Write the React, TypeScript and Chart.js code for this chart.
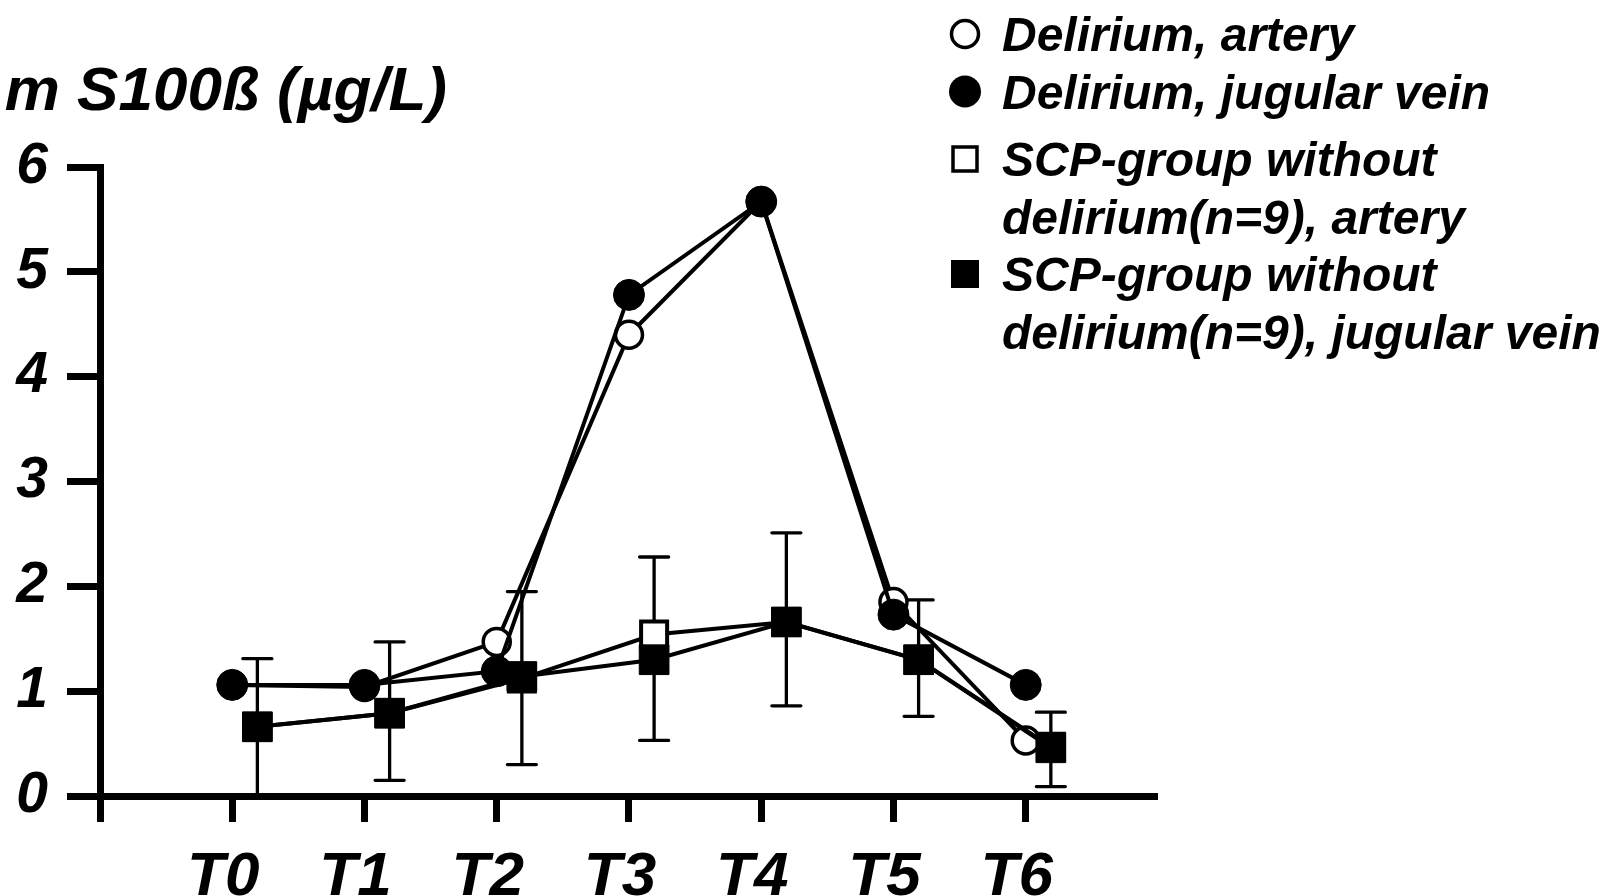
import React, { useEffect, useRef } from 'react';
import { Chart, registerables } from 'chart.js';

Chart.register(...registerables);

// ---------- data ----------
const CATEGORIES = ['T0', 'T1', 'T2', 'T3', 'T4', 'T5', 'T6'];
const X_TICK_VALUES = [-1, 0, 1, 2, 3, 4, 5, 6];
const X_MIN = -1;
const X_MAX = 6.97;
const Y_MIN = 0;
const Y_MAX = 6;

const DELIRIUM_ARTERY = [1.06, 1.04, 1.47, 4.4, 5.67, 1.85, 0.53];
const DELIRIUM_JUGULAR = [1.06, 1.06, 1.19, 4.78, 5.67, 1.73, 1.06];
const SCP_ARTERY = [0.66, 0.79, 1.12, 1.54, 1.66, 1.3, 0.47];
const SCP_JUGULAR = [0.66, 0.79, 1.14, 1.3, 1.66, 1.3, 0.46];
const SCP_ERR_UPPER = [1.31, 1.47, 1.95, 2.28, 2.51, 1.87, 0.8];
const SCP_ERR_LOWER = [0.0, 0.15, 0.3, 0.53, 0.86, 0.76, 0.09];

const LEGEND_LINES = [
  ['Delirium, artery'],
  ['Delirium, jugular vein'],
  ['SCP-group without', 'delirium(n=9), artery'],
  ['SCP-group without', 'delirium(n=9), jugular vein'],
];
const TITLE_TEXT = 'm S100ß (µg/L)';

// ---------- style ----------
const FONT_FAMILY = '"Liberation Sans", Arial, Helvetica, sans-serif';
const CIRCLE_DODGE = 0;
const SQUARE_DODGE = 0.19;
const CAP_HALF = 14.5;
const LEGEND_EXTRA_GAP = [0, 0, 10, 0];

const toPoints = (vals: number[], dodge: number) =>
  vals.map((v, i) => ({ x: i + dodge, y: v }));

const overlayPlugin = {
  id: 'overlay',
  beforeDatasetsDraw(chart: any) {
    const { ctx } = chart;
    const xs = chart.scales.x;
    const ys = chart.scales.y;
    ctx.save();
    ctx.strokeStyle = '#000';
    ctx.lineWidth = 3.3;
    ctx.lineCap = 'round';
    CATEGORIES.forEach((_, i) => {
      const px = xs.getPixelForValue(i + SQUARE_DODGE);
      const top = ys.getPixelForValue(SCP_ERR_UPPER[i]);
      const bot = ys.getPixelForValue(SCP_ERR_LOWER[i]);
      ctx.beginPath();
      ctx.moveTo(px, top);
      ctx.lineTo(px, bot);
      ctx.moveTo(px - CAP_HALF, top);
      ctx.lineTo(px + CAP_HALF, top);
      if (SCP_ERR_LOWER[i] > 0) {
        ctx.moveTo(px - CAP_HALF, bot);
        ctx.lineTo(px + CAP_HALF, bot);
      }
      ctx.stroke();
    });
    ctx.restore();
  },
  afterDraw(chart: any) {
    const { ctx } = chart;
    ctx.save();
    // title (cropped y-axis title)
    ctx.fillStyle = '#000';
    ctx.font = `italic bold 62px ${FONT_FAMILY}`;
    ctx.textAlign = 'right';
    ctx.textBaseline = 'alphabetic';
    ctx.fillText(TITLE_TEXT, 447, 110);

    // legend
    ctx.font = `italic bold 48px ${FONT_FAMILY}`;
    ctx.textAlign = 'left';
    const markerX = 965;
    const textX = 1002;
    let baseline = 51;
    const lineH = 57.5;
    chart.data.datasets.forEach((ds: any, i: number) => {
      baseline += LEGEND_EXTRA_GAP[i];
      const cy = baseline - 17;
      const filled = ds.backgroundColor !== '#ffffff';
      ctx.lineWidth = 3.5;
      ctx.strokeStyle = '#000';
      ctx.fillStyle = filled ? '#000' : '#fff';
      ctx.beginPath();
      if (ds.pointStyle === 'circle') {
        ctx.arc(markerX, cy, filled ? 16 : 13.5, 0, Math.PI * 2);
      } else {
        const h = filled ? 14 : 12;
        ctx.rect(markerX - h, cy - h, 2 * h, 2 * h);
      }
      ctx.fill();
      if (!filled) ctx.stroke();
      ctx.fillStyle = '#000';
      LEGEND_LINES[i].forEach((line, j) => {
        ctx.fillText(line, textX, baseline + j * lineH);
      });
      baseline += LEGEND_LINES[i].length * lineH;
    });
    ctx.restore();
  },
};

export default function App() {
  const canvasRef = useRef<HTMLCanvasElement | null>(null);

  useEffect(() => {
    if (!canvasRef.current) return;
    const lineCommon = {
      borderColor: '#000',
      borderWidth: 4,
      pointBorderColor: '#000',
      tension: 0,
      fill: false,
    };
    const chart = new Chart(canvasRef.current, {
      type: 'line',
      data: {
        datasets: [
          {
            ...lineCommon,
            label: LEGEND_LINES[0].join(' '),
            data: toPoints(DELIRIUM_ARTERY, CIRCLE_DODGE),
            pointStyle: 'circle',
            pointRadius: 13.5,
            pointBorderWidth: 3.5,
            backgroundColor: '#ffffff',
            pointBackgroundColor: '#ffffff',
            order: 4,
          },
          {
            ...lineCommon,
            label: LEGEND_LINES[1].join(' '),
            data: toPoints(DELIRIUM_JUGULAR, CIRCLE_DODGE),
            pointStyle: 'circle',
            pointRadius: 15.5,
            pointBorderWidth: 1,
            backgroundColor: '#000000',
            pointBackgroundColor: '#000000',
            order: 3,
          },
          {
            ...lineCommon,
            label: LEGEND_LINES[2].join(' '),
            data: toPoints(SCP_ARTERY, SQUARE_DODGE),
            pointStyle: 'rect',
            pointRadius: 18.4,
            pointBorderWidth: 4,
            backgroundColor: '#ffffff',
            pointBackgroundColor: '#ffffff',
            order: 2,
          },
          {
            ...lineCommon,
            label: LEGEND_LINES[3].join(' '),
            data: toPoints(SCP_JUGULAR, SQUARE_DODGE),
            pointStyle: 'rect',
            pointRadius: 21,
            pointBorderWidth: 1,
            backgroundColor: '#000000',
            pointBackgroundColor: '#000000',
            order: 1,
          },
        ],
      },
      options: {
        animation: false,
        responsive: false,
        events: [],
        layout: { padding: { left: 0, right: 448, top: 167, bottom: 0 } },
        plugins: {
          legend: { display: false },
          title: { display: false },
          tooltip: { enabled: false },
        },
        scales: {
          x: {
            type: 'linear',
            min: X_MIN,
            max: X_MAX,
            afterBuildTicks: (axis: any) => {
              axis.ticks = X_TICK_VALUES.map((v) => ({ value: v }));
            },
            afterFit: (axis: any) => {
              axis.height = 100;
            },
            ticks: {
              autoSkip: false,
              maxRotation: 0,
              padding: 19,
              labelOffset: -9,
              color: '#000',
              font: { family: FONT_FAMILY, size: 62, weight: 'bold', style: 'italic' },
              callback: (v: any) => (v >= 0 && v < CATEGORIES.length ? CATEGORIES[v] : ''),
            },
            grid: {
              drawOnChartArea: false,
              drawTicks: true,
              tickLength: 26,
              tickWidth: 7,
              tickColor: '#000',
              color: '#000',
              lineWidth: 7,
            },
            border: { display: true, width: 7, color: '#000' },
          },
          y: {
            type: 'linear',
            min: Y_MIN,
            max: Y_MAX,
            afterFit: (axis: any) => {
              axis.width = 100;
            },
            ticks: {
              stepSize: 1,
              padding: 19,
              color: '#000',
              font: { family: FONT_FAMILY, size: 57, weight: 'bold', style: 'italic' },
            },
            grid: {
              drawOnChartArea: false,
              drawTicks: true,
              tickLength: 33,
              tickWidth: 7,
              tickColor: '#000',
              color: '#000',
              lineWidth: 7,
            },
            border: { display: true, width: 7, color: '#000' },
          },
        },
      } as any,
      plugins: [overlayPlugin],
    });
    return () => chart.destroy();
  }, []);

  return (
    <canvas
      ref={canvasRef}
      width={1602}
      height={896}
      style={{ position: 'fixed', left: 0, top: 0, width: 1602, height: 896, background: '#fff' }}
    />
  );
}
